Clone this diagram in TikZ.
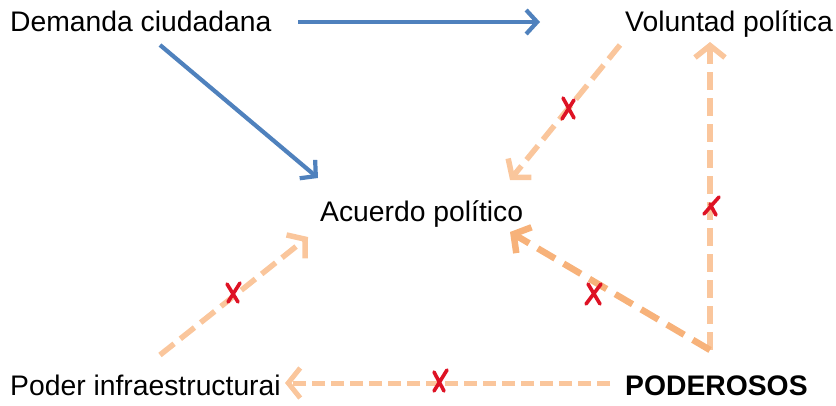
\documentclass[tikz,border=0pt]{standalone}
\usepackage{fontspec}
\setmainfont{Liberation Sans}
\usetikzlibrary{arrows.meta,calc}
\definecolor{bluearr}{RGB}{79,129,189}
\definecolor{peach}{RGB}{250,198,156}
\definecolor{orng}{RGB}{247,178,122}
\definecolor{xred}{RGB}{222,18,36}
\begin{document}
\begin{tikzpicture}[x=1pt,y=-1pt,
  lbl/.style={inner sep=0pt, anchor=base west, font=\fontsize{28.3}{30}\selectfont},
  bluearrow/.style={draw=bluearr, line width=4.2pt, -{Straight Barb[length=11pt,width=24pt]}},
  peacharrow/.style={draw=peach, line width=5.5pt, dash pattern=on 18pt off 8pt, -{Straight Barb[length=12pt,width=30pt]}},
  orangearrow/.style={draw=orng, line width=6.5pt, dash pattern=on 20pt off 10pt, -{Straight Barb[length=12pt,width=30pt]}},
  xmark/.style={draw=xred, line width=3.6pt, line cap=round}]
\useasboundingbox (0,0) rectangle (836,406);

\node[lbl] (dem) at (10,32) {Demanda ciudadana};
\node[lbl] (vol) at (625,32) {Voluntad política};
\node[lbl] (acu) at (320,222) {Acuerdo político};
\node[lbl] (inf) at (10,395) {Poder infraestructurai};
\node[lbl, font=\fontsize{28.3}{30}\selectfont\bfseries] (pod) at (625,395) {PODEROSOS};

\coordinate (corner) at ($(pod.base west)+(85,-45)$);

% blue arrows
\draw[bluearrow] ($(dem.base west)+(288,-10)$) -- ($(vol.base west)+(-85,-10)$);
\draw[bluearrow] ($(dem.base west)+(150,13)$) -- ($(acu.base west)+(-2,-44)$);

% dashed arrows
\draw[peacharrow] ($(vol.base west)+(-5,13)$) -- ($(acu.base west)+(190,-42)$);
\draw[peacharrow] (corner) -- ($(vol.base west)+(85,10)$);
\draw[orangearrow] (corner) -- ($(acu.base west)+(190,10)$);
\draw[peacharrow] ($(inf.base west)+(150,-40)$) -- ($(acu.base west)+(-12,15)$);
\draw[peacharrow, line width=5pt, dash pattern=on 13pt off 6pt] ($(pod.base west)+(-15,-12)$) -- ($(inf.base west)+(275,-12)$);

% red crosses
\draw[xmark] (563,98) -- (574,118) (574,100) -- (562,119);
\draw[xmark] (704,214) -- (719,197) (710,204) -- (716,215);
\draw[xmark] (588,284) -- (600,304) (601,284) -- (586,304);
\draw[xmark] (227,284) -- (238,302) (240,283) -- (228,302);
\draw[xmark] (434,391) -- (447,370) (434,372) -- (444,391);
\end{tikzpicture}
\end{document}
